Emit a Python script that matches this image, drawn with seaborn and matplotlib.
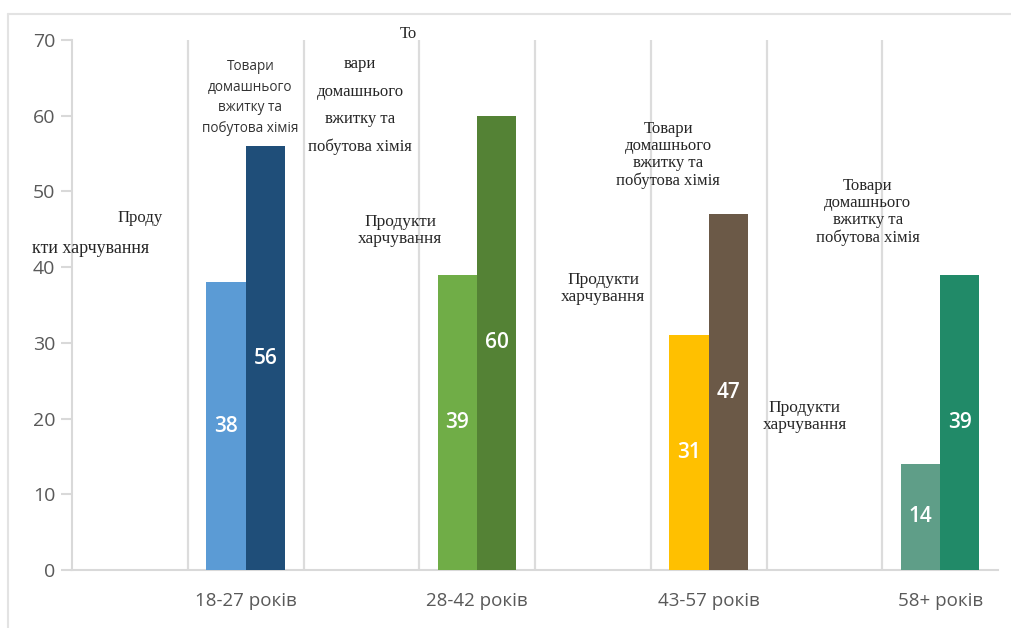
import matplotlib
matplotlib.use("Agg")
import matplotlib.pyplot as plt
from matplotlib.lines import Line2D
import seaborn as sns
import pandas as pd

# Age groups and shares of spending (%) per product category
age_groups = ["18-27 років", "28-42 років", "43-57 років", "58+ років"]
series = ["Продукти харчування", "Товари домашнього вжитку та побутова хімія"]
food = [38, 39, 31, 14]
household = [56, 60, 47, 39]
y_ticks = [0, 10, 20, 30, 40, 50, 60, 70]

# Each age group has its own pair of colours (light = food, dark = household)
food_colors = ["#5B9BD5", "#70AD47", "#FFC000", "#5F9E88"]
household_colors = ["#1F4E79", "#548235", "#6B5947", "#218A68"]

df = pd.DataFrame({
    "age": age_groups * 2,
    "category": [series[0]] * 4 + [series[1]] * 4,
    "value": food + household,
})

sns.set_style("white")
plt.rcParams["font.family"] = ["Open Sans", "DejaVu Sans"]

fig = plt.figure(figsize=(10.11, 6.28), dpi=100)
ax = fig.add_axes([72 / 1011, 1 - 570 / 628, (998 - 72) / 1011, 530 / 628])

sns.barplot(data=df, x="age", y="value", hue="category", hue_order=series,
            order=age_groups, width=0.34, palette=["#888888", "#444444"],
            legend=False, ax=ax, zorder=3)

for bar, c in zip(ax.containers[0], food_colors):
    bar.set_facecolor(c)
    bar.set_edgecolor("none")
for bar, c in zip(ax.containers[1], household_colors):
    bar.set_facecolor(c)
    bar.set_edgecolor("none")

for cont in ax.containers:
    ax.bar_label(cont, label_type="center", color="white", fontsize=15,
                 fontweight="semibold", fmt="%d")

ax.set_xlim(-0.75, 3.25)
ax.set_ylim(0, 70)
ax.set_yticks(y_ticks)
ax.set_xlabel("")
ax.set_ylabel("")

# Vertical separators between and around the bar pairs
for gx in [-0.25, 0.25, 0.75, 1.25, 1.75, 2.25, 2.75]:
    ax.axvline(gx, color="#dcdcdc", lw=1.6, zorder=1)

grid_col = "#d9d9d9"
for side in ["top", "right"]:
    ax.spines[side].set_visible(False)
ax.spines["left"].set_color(grid_col)
ax.spines["left"].set_linewidth(1.5)
ax.spines["bottom"].set_color(grid_col)
ax.spines["bottom"].set_linewidth(1.5)
ax.tick_params(axis="y", which="both", left=True, length=8, width=1.5,
               color=grid_col, labelcolor="#595959", labelsize=14, pad=4)
ax.tick_params(axis="x", bottom=False, labelcolor="#595959", labelsize=13.5, pad=12)

# Category captions
serif = ["Liberation Serif", "DejaVu Serif"]
ax.text(-0.456, 46.5, "Проду", family=serif, fontsize=12, ha="center", va="center")
ax.text(-0.668, 42.5, "кти харчування", family=serif, fontsize=13, ha="center", va="center")
ax.text(0.02, 62.4, "Товари\nдомашнього\nвжитку та\nпобутова хімія", fontsize=9.8,
        color="#333333", ha="center", va="center", linespacing=1.5)

ax.text(0.701, 70.8, "То", family=serif, fontsize=12, ha="center", va="center")
ax.text(0.494, 61.3, "вари\nдомашнього\nвжитку та\nпобутова хімія", family=serif,
        fontsize=12, ha="center", va="center", linespacing=1.95)
ax.text(0.667, 44.8, "Продукти\nхарчування", family=serif, fontsize=12.5,
        ha="center", va="center", linespacing=1.05)

ax.text(1.825, 54.8, "Товари\nдомашнього\nвжитку та\nпобутова хімія", family=serif,
        fontsize=12, ha="center", va="center", linespacing=1.08)
ax.text(1.544, 37.2, "Продукти\nхарчування", family=serif, fontsize=12.5,
        ha="center", va="center", linespacing=1.05)

ax.text(2.688, 47.3, "Товари\nдомашнього\nвжитку та\nпобутова хімія", family=serif,
        fontsize=12, ha="center", va="center", linespacing=1.08)
ax.text(2.416, 20.3, "Продукти\nхарчування", family=serif, fontsize=12.5,
        ha="center", va="center", linespacing=1.05)

# Thin frame along the top and left edge of the figure
fig.add_artist(Line2D([8 / 1011, 1], [1 - 14 / 628, 1 - 14 / 628],
                      transform=fig.transFigure, color="#e3e3e3", lw=1.5))
fig.add_artist(Line2D([8 / 1011, 8 / 1011], [0, 1 - 14 / 628],
                      transform=fig.transFigure, color="#e3e3e3", lw=1.5))

fig.savefig("out.png", dpi=100)
